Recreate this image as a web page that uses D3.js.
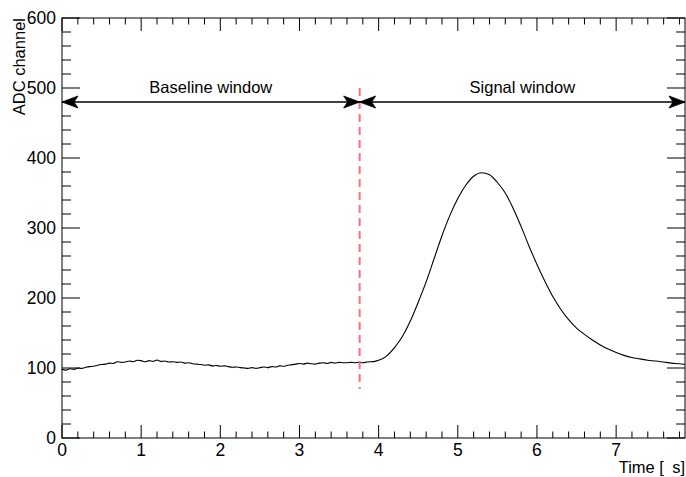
<!DOCTYPE html>
<html><head><meta charset="utf-8">
<script src="https://cdn.jsdelivr.net/npm/d3@7"></script>
<style>body{margin:0;background:#fff}text{font-family:"Liberation Sans",Arial,Helvetica,sans-serif}</style>
</head><body><svg id="c" width="686" height="477"></svg>
<script>
const times = [0.00,0.05,0.10,0.15,0.20,0.25,0.30,0.35,0.40,0.45,0.50,0.55,0.60,0.65,0.70,0.75,0.80,0.85,0.90,0.95,
1.00,1.05,1.10,1.15,1.20,1.25,1.30,1.35,1.40,1.45,1.50,1.55,1.60,1.65,1.70,1.75,1.80,1.85,1.90,1.95,
2.00,2.05,2.10,2.15,2.20,2.25,2.30,2.35,2.40,2.45,2.50,2.55,2.60,2.65,2.70,2.75,2.80,2.85,2.90,2.95,
3.00,3.05,3.10,3.15,3.20,3.25,3.30,3.35,3.40,3.45,3.50,3.55,3.60,3.65,3.70,3.75,3.80,3.85,3.90,3.95,
4.0,4.1,4.2,4.3,4.4,4.5,4.6,4.7,4.8,4.9,5.0,5.1,5.2,5.3,5.4,5.5,5.6,5.7,5.8,5.9,
6.0,6.1,6.2,6.3,6.4,6.5,6.6,6.7,6.8,6.9,7.0,7.1,7.2,7.3,7.4,7.5,7.6,7.7,7.8,7.87];
const adc = [98,97,99,98,100,99.5,101,102,102.5,104,105,105.5,107,106.5,109,108,108.5,110,109,111,
110.5,109,110.5,109.5,111.5,109.5,110,108.5,109,108,108.5,107,107.5,106,105.5,105,104,104.5,103,103.5,
102.5,103,102,101,101.5,100.5,100,99.5,100.5,99.5,100.5,101.5,100.5,102,101.5,103,102.5,104,104.5,105.5,
106.5,105.5,107,106,105.5,107,107.5,106.5,108,107,108,107.5,107.5,108,107.5,108,107.5,108.5,109,109.5,
111,117,129,145,167,194,223,256,289,318,342,361,374,379,376,365,350,328,302,274,
248,224,202,184,169,157,148,140,133,127,122,118,115,113,111,110,108.5,107,106,105];
const xTicks = [0,1,2,3,4,5,6,7];
const yTicks = [0,100,200,300,400,500,600];
const windowSplit = 3.76;
const arrowLevel = 480;
const windowLabels = ["Baseline window","Signal window"];

const svg = d3.select("#c");
const L=62,R=685,T=18,B=438;
const x = d3.scaleLinear().domain([0,7.87]).range([L,R]);
const y = d3.scaleLinear().domain([0,600]).range([B,T]);

// ticks
const g = svg.append("g").attr("stroke","#000").attr("stroke-width",1);
d3.range(0,7.87,0.2).forEach(v=>{
  const isMaj = Math.abs(v-Math.round(v))<1e-6;
  const len = isMaj?13:6.5;
  g.append("line").attr("x1",x(v)).attr("x2",x(v)).attr("y1",B).attr("y2",B-len);
  g.append("line").attr("x1",x(v)).attr("x2",x(v)).attr("y1",T).attr("y2",T+len);
});
d3.range(0,601,20).forEach(v=>{
  const isMaj = v%100===0;
  const len = isMaj?18:9;
  g.append("line").attr("x1",L).attr("x2",L+len).attr("y1",y(v)).attr("y2",y(v));
  g.append("line").attr("x1",R).attr("x2",R-len).attr("y1",y(v)).attr("y2",y(v));
});
svg.append("rect").attr("x",L).attr("y",T).attr("width",R-L).attr("height",B-T)
  .attr("fill","none").attr("stroke","#000").attr("stroke-width",1);

// tick labels
svg.selectAll(".xl").data(xTicks).enter().append("text")
  .attr("x",d=>x(d)).attr("y",B+18).attr("text-anchor","middle").attr("font-size",17.5).text(d=>d);
svg.selectAll(".yl").data(yTicks).enter().append("text")
  .attr("x",L-6).attr("y",d=>y(d)+6).attr("text-anchor","end").attr("font-size",17.5).text(d=>d);

// axis titles
svg.append("text").attr("x",R).attr("y",473).attr("text-anchor","end").attr("font-size",16.5)
  .text("Time [\u2002s]");
svg.append("text").attr("transform","translate(25,"+T+") rotate(-90)").attr("text-anchor","end")
  .attr("font-size",16.5).text("ADC channel");

// data line
svg.append("path").datum(times.map((t,i)=>[t,adc[i]]))
  .attr("d",d3.line().curve(d3.curveMonotoneX).x(d=>x(d[0])).y(d=>y(d[1])))
  .attr("fill","none").attr("stroke","#000").attr("stroke-width",1.1);

// dashed line
svg.append("line").attr("x1",x(windowSplit)).attr("x2",x(windowSplit)).attr("y1",y(500)).attr("y2",y(70))
  .attr("stroke","#ff6f7a").attr("stroke-width",2).attr("stroke-dasharray","8,5");

// arrows
function arrowHead(px,py,dir){
  const l=16,w=6,n=4;
  const p = `M${px},${py} L${px+dir*l},${py-w} L${px+dir*(l-n)},${py} L${px+dir*l},${py+w} Z`;
  svg.append("path").attr("d",p).attr("fill","#000").attr("stroke","#000").attr("stroke-width",0.8);
}
const ay = y(arrowLevel);
const segs = [[0,windowSplit],[windowSplit,7.87]];
segs.forEach((s,i)=>{
  svg.append("line").attr("x1",x(s[0])).attr("x2",x(s[1])).attr("y1",ay).attr("y2",ay)
    .attr("stroke","#000").attr("stroke-width",1.5);
  arrowHead(x(s[0]),ay,1);
  arrowHead(x(s[1]),ay,-1);
  svg.append("text").attr("x",(x(s[0])+x(s[1]))/2).attr("y",ay-9).attr("text-anchor","middle")
    .attr("font-size",16.5).text(windowLabels[i]);
});
</script></body></html>
